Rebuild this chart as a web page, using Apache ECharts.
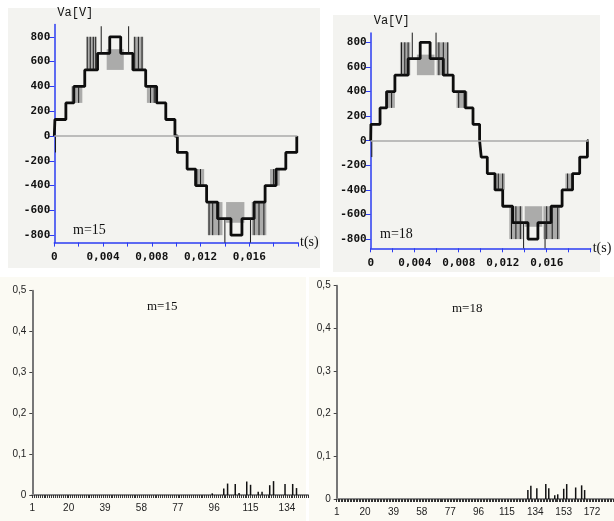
<!DOCTYPE html>
<html>
<head>
<meta charset="utf-8">
<script src="https://cdn.jsdelivr.net/npm/echarts@6/dist/echarts.min.js"></script>
<style>
html, body { margin: 0; padding: 0; background: #fff; }
#main { width: 614px; height: 521px; }
</style>
</head>
<body>
<div id="main"></div>
<script>
// staircase output voltage, [time s, level V], level holds until next point
var wave15 = [
    [0, 0], [0.00005, 133], [0.00095, 267], [0.0016, 400], [0.0025, 533], [0.00355, 667],
    [0.00455, 800], [0.00545, 667], [0.00645, 533], [0.0075, 400], [0.0084, 267], [0.00915, 133],
    [0.0099, 0], [0.0101, -133], [0.0109, -267], [0.0116, -400], [0.0125, -533], [0.0134, -667],
    [0.0145, -800], [0.0154, -667], [0.0164, -533], [0.0173, -400], [0.0182, -267], [0.019, -133],
    [0.0199, 0], [0.01995, 0]
];
var wave18 = [
    [0, 0], [0.00002, 133], [0.00085, 267], [0.00145, 400], [0.0022, 533], [0.0034, 667],
    [0.0045, 800], [0.0054, 667], [0.0066, 533], [0.0075, 400], [0.0086, 267], [0.0093, 133],
    [0.0099, 0], [0.01005, -133], [0.0106, -267], [0.0113, -400], [0.012, -533], [0.0129, -667],
    [0.0143, -800], [0.0152, -667], [0.0164, -533], [0.0174, -400], [0.01835, -267], [0.019, -133],
    [0.0197, 0], [0.0198, 0]
];

// PWM switching zones, [t start, t end, low V, high V]
var bands15 = [
    [0.0014, 0.0023, 267, 400], [0.00265, 0.00345, 533, 800], [0.0043, 0.0057, 533, 700],
    [0.0065, 0.0073, 533, 800], [0.0076, 0.0084, 267, 400],
    [0.0115, 0.0123, -400, -267], [0.0126, 0.0138, -800, -533], [0.0141, 0.0156, -700, -533],
    [0.0162, 0.0174, -800, -533], [0.0177, 0.0185, -400, -267]
];
var bands18 = [
    [0.0013, 0.0022, 267, 400], [0.00266, 0.0036, 533, 800], [0.0042, 0.0058, 533, 700],
    [0.006, 0.0071, 533, 800], [0.0078, 0.0088, 267, 400],
    [0.0114, 0.0122, -400, -267], [0.0126, 0.0138, -800, -533], [0.014, 0.0156, -700, -533],
    [0.0157, 0.0172, -800, -533], [0.0177, 0.0184, -400, -267]
];

// single switching pulses and spikes, [t, low V, high V]
var pulses15 = [
    [0.0001, -133, 0], [0.00385, 667, 885], [0.0061, 667, 885], [0.014, -860, -667], [0.0161, -860, -667],
    [0.0016, 267, 400], [0.002, 267, 400], [0.0027, 533, 800], [0.00295, 533, 800], [0.0032, 533, 800],
    [0.0034, 533, 800], [0.0066, 533, 800], [0.0069, 533, 800], [0.0072, 533, 800], [0.0079, 267, 400],
    [0.0082, 267, 400], [0.0117, -400, -267], [0.012, -400, -267], [0.0127, -800, -533], [0.013, -800, -533],
    [0.0135, -800, -533], [0.0164, -800, -533], [0.0168, -800, -533], [0.0172, -800, -533], [0.018, -400, -267]
];
var pulses18 = [
    [0.0001, -133, 0], [0.00378, 667, 879], [0.00594, 667, 879], [0.0139, -875, -667], [0.01585, -875, -667],
    [0.0015, 267, 400], [0.0019, 267, 400], [0.0028, 533, 800], [0.0031, 533, 800], [0.0034, 533, 800],
    [0.0062, 533, 800], [0.0066, 533, 800], [0.007, 533, 800], [0.008, 267, 400], [0.0085, 267, 400],
    [0.0116, -400, -267], [0.012, -400, -267], [0.0128, -800, -533], [0.0132, -800, -533], [0.0136, -800, -533],
    [0.016, -800, -533], [0.0165, -800, -533], [0.017, -800, -533], [0.0179, -400, -267]
];

var voltTicks  = [-800, -600, -400, -200, 0, 200, 400, 600, 800];
var timeLabels = [0, 0.004, 0.008, 0.012, 0.016];
var timeTicks  = [0, 0.002, 0.004, 0.006, 0.008, 0.01, 0.012, 0.014, 0.016, 0.018, 0.02];

// harmonic spectra: order and relative amplitude
var orders15 = [95, 101, 103, 107, 109, 113, 115, 119, 121, 125, 127, 133, 137, 139];
var amps15   = [0.004, 0.016, 0.028, 0.027, 0.005, 0.033, 0.025, 0.008, 0.008, 0.024, 0.034, 0.027, 0.027, 0.017];
var orders18 = [129, 131, 135, 141, 143, 147, 149, 153, 155, 161, 165, 167];
var amps18   = [0.021, 0.031, 0.025, 0.035, 0.025, 0.009, 0.011, 0.024, 0.035, 0.027, 0.032, 0.021];
var count15 = 145;
var count18 = 186;

var blue = '#2b3cf2';
var monoFont = 'DejaVu Sans Mono';

function buildSpectrum(count, orders, amps)
{
    var cats = [], values = [];
    for(var i = 1; i <= count; i++)
    {
        cats.push(String(i));
        values.push(0);
    }
    for(var j = 0; j < orders.length; j++) values[orders[j] - 1] = amps[j];
    return {cats: cats, values: values};
}

function renderBand(params, api)
{
    var p0 = api.coord([api.value(0), api.value(3)]);
    var p1 = api.coord([api.value(1), api.value(2)]);
    return {
        type: 'rect',
        shape: {x: p0[0], y: p0[1], width: p1[0] - p0[0], height: p1[1] - p0[1]},
        style: {fill: 'rgba(100,100,100,0.5)'}
    };
}

function renderPulse(params, api)
{
    var p0 = api.coord([api.value(0), api.value(1)]);
    var p1 = api.coord([api.value(0), api.value(2)]);
    return {
        type: 'line',
        shape: {x1: p0[0], y1: p0[1], x2: p1[0], y2: p1[1]},
        style: {stroke: '#1a1a1a', lineWidth: 1}
    };
}

function waveXAxis(gridIndex)
{
    return {
        type: 'value', gridIndex: gridIndex, min: 0, max: 0.02,
        name: 't(s)', nameLocation: 'end', nameGap: 2,
        nameTextStyle: {color: '#111', fontFamily: 'Liberation Serif', fontSize: 14, verticalAlign: 'middle', align: 'left'},
        axisLine: {show: true, onZero: false, lineStyle: {color: blue, width: 1.5}},
        axisTick: {show: true, length: 4, customValues: timeTicks, lineStyle: {color: blue}},
        axisLabel: {
            customValues: timeLabels, margin: 9, color: '#111',
            fontFamily: monoFont, fontWeight: 'bold', fontSize: 11,
            formatter: function(v) { return String(v).replace('.', ','); }
        },
        splitLine: {show: false}
    };
}

function waveYAxis(gridIndex, min, max)
{
    return {
        type: 'value', gridIndex: gridIndex, min: min, max: max,
        name: 'Va[V]', nameLocation: 'end', nameGap: 6,
        nameTextStyle: {color: '#111', fontFamily: 'Liberation Mono', fontSize: 12, align: 'left', padding: [0, 0, 0, 3]},
        axisLine: {show: true, onZero: false, lineStyle: {color: blue, width: 1.5}},
        axisTick: {show: true, length: 5, customValues: voltTicks, lineStyle: {color: blue}},
        axisLabel: {
            customValues: voltTicks, margin: 4, color: '#111',
            fontFamily: monoFont, fontWeight: 'bold', fontSize: 11
        },
        splitLine: {show: false}
    };
}

function waveSeries(gridIndex, wave, bands, pulses)
{
    return [
        {
            type: 'custom', xAxisIndex: gridIndex, yAxisIndex: gridIndex,
            renderItem: renderBand, encode: {x: [0, 1], y: [2, 3]}, data: bands, z: 2
        },
        {
            type: 'line', xAxisIndex: gridIndex, yAxisIndex: gridIndex, step: 'end',
            symbol: 'none', data: wave, z: 3,
            lineStyle: {color: '#0d0d0d', width: 2.8},
            markLine: {
                silent: true, symbol: 'none', label: {show: false},
                lineStyle: {color: '#aaaaaa', width: 1.5, type: 'solid'},
                data: [[{coord: [0, 0]}, {coord: [wave[wave.length - 1][0], 0]}]]
            }
        },
        {
            type: 'custom', xAxisIndex: gridIndex, yAxisIndex: gridIndex,
            renderItem: renderPulse, encode: {x: 0, y: [1, 2]}, data: pulses, z: 4
        }
    ];
}

function spectrumXAxis(gridIndex, cats)
{
    return {
        type: 'category', gridIndex: gridIndex, data: cats, boundaryGap: false,
        axisLine: {lineStyle: {color: '#8a8a8a', width: 2}},
        axisTick: {interval: 0, length: 3, lineStyle: {color: '#333'}},
        axisLabel: {interval: 18, margin: 8, color: '#222', fontFamily: 'Liberation Sans', fontSize: 10},
        splitLine: {show: false}
    };
}

function spectrumYAxis(gridIndex)
{
    return {
        type: 'value', gridIndex: gridIndex, min: 0, max: 0.5, interval: 0.1,
        axisLine: {show: true, lineStyle: {color: '#777', width: 2}},
        axisTick: {show: true, length: 3, lineStyle: {color: '#444'}},
        axisLabel: {
            margin: 6, color: '#222', fontFamily: 'Liberation Sans', fontSize: 10,
            formatter: function(v) { return String(v).replace('.', ','); }
        },
        splitLine: {show: false}
    };
}

var spec15 = buildSpectrum(count15, orders15, amps15);
var spec18 = buildSpectrum(count18, orders18, amps18);

var chart = echarts.init(document.getElementById('main'));
var option = {
    backgroundColor: '#ffffff',
    animation: false,
    graphic: [
        {type: 'rect', z: -10, shape: {x: 8, y: 8, width: 312, height: 260}, style: {fill: '#f3f3f0'}},
        {type: 'rect', z: -10, shape: {x: 333, y: 15, width: 267, height: 257}, style: {fill: '#f3f3f0'}},
        {type: 'rect', z: -10, shape: {x: 0, y: 277, width: 306, height: 244}, style: {fill: '#fbfaf3'}},
        {type: 'rect', z: -10, shape: {x: 309, y: 277, width: 305, height: 244}, style: {fill: '#fbfaf3'}},
        {type: 'text', left: 73, top: 223, style: {text: 'm=15', fill: '#111', font: '14px "Liberation Serif"'}},
        {type: 'text', left: 380, top: 227, style: {text: 'm=18', fill: '#111', font: '14px "Liberation Serif"'}},
        {type: 'text', left: 147, top: 300, style: {text: 'm=15', fill: '#111', font: '13px "Liberation Serif"'}},
        {type: 'text', left: 452, top: 302, style: {text: 'm=18', fill: '#111', font: '13px "Liberation Serif"'}}
    ],
    grid: [
        {left: 54.3, top: 24.4, width: 243.7, height: 218.2},
        {left: 370.7, top: 33, width: 220, height: 215.3},
        {left: 32.3, top: 290.7, width: 275.7, height: 204.3},
        {left: 336.7, top: 285.7, width: 276.3, height: 213.3}
    ],
    xAxis: [
        waveXAxis(0),
        waveXAxis(1),
        spectrumXAxis(2, spec15.cats),
        spectrumXAxis(3, spec18.cats)
    ],
    yAxis: [
        waveYAxis(0, -860, 900),
        waveYAxis(1, -875, 876),
        spectrumYAxis(2),
        spectrumYAxis(3)
    ],
    series: [].concat(
        waveSeries(0, wave15, bands15, pulses15),
        waveSeries(1, wave18, bands18, pulses18),
        [
            {type: 'bar', xAxisIndex: 2, yAxisIndex: 2, data: spec15.values, barWidth: 1.5, itemStyle: {color: '#111'}},
            {type: 'bar', xAxisIndex: 3, yAxisIndex: 3, data: spec18.values, barWidth: 1.5, itemStyle: {color: '#111'}}
        ]
    )
};
chart.setOption(option);
</script>
</body>
</html>
